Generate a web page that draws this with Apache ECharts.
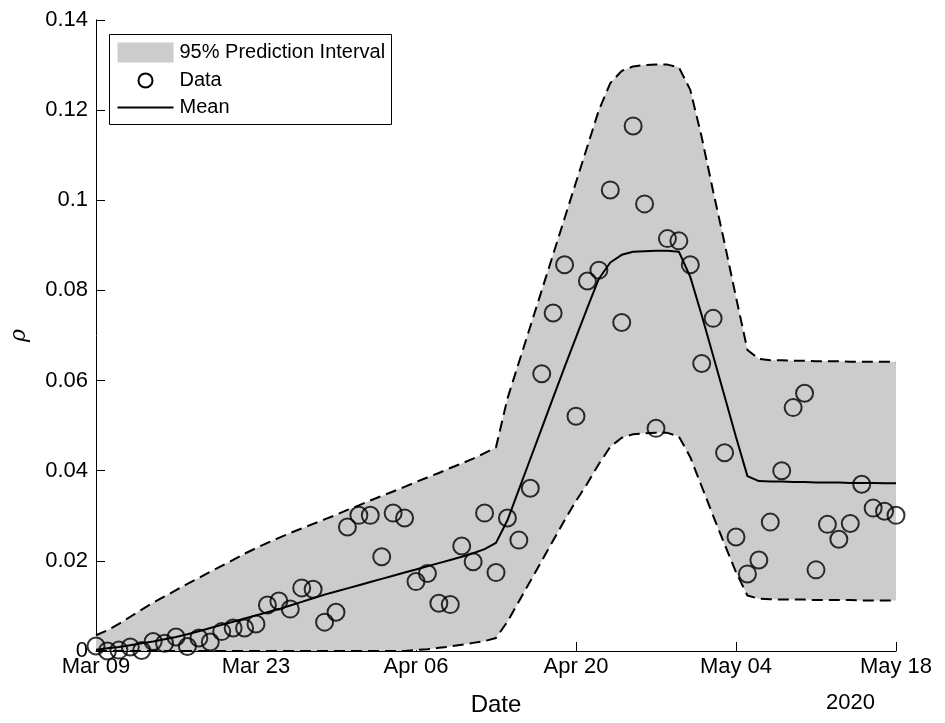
<!DOCTYPE html>
<html>
<head>
<meta charset="utf-8">
<script src="https://cdn.jsdelivr.net/npm/echarts@6/dist/echarts.min.js"></script>
<style>html,body{margin:0;padding:0;background:#fff;}#chart{width:945px;height:723px;}</style>
</head>
<body>
<div id="chart"></div>
<script>
// Daily categories, Mar 09 .. May 18, 2020
var dates = ['Mar 09','Mar 10','Mar 11','Mar 12','Mar 13','Mar 14','Mar 15','Mar 16','Mar 17','Mar 18','Mar 19','Mar 20','Mar 21','Mar 22','Mar 23','Mar 24','Mar 25','Mar 26','Mar 27','Mar 28','Mar 29','Mar 30','Mar 31',
 'Apr 01','Apr 02','Apr 03','Apr 04','Apr 05','Apr 06','Apr 07','Apr 08','Apr 09','Apr 10','Apr 11','Apr 12','Apr 13','Apr 14','Apr 15','Apr 16','Apr 17','Apr 18','Apr 19','Apr 20','Apr 21','Apr 22','Apr 23','Apr 24','Apr 25','Apr 26','Apr 27','Apr 28','Apr 29','Apr 30',
 'May 01','May 02','May 03','May 04','May 05','May 06','May 07','May 08','May 09','May 10','May 11','May 12','May 13','May 14','May 15','May 16','May 17','May 18'];

var yTickLabels = ['0','0.02','0.04','0.06','0.08','0.1','0.12','0.14'];

var rhoData = [0.0011,0.0000,0.0002,0.0009,0.0001,0.0021,0.0017,0.0031,0.0010,0.0029,
 0.0020,0.0043,0.0051,0.0051,0.0060,0.0102,0.0111,0.0093,0.0140,0.0137,
 0.0064,0.0086,0.0275,0.0301,0.0301,0.0209,0.0306,0.0295,0.0154,0.0172,
 0.0106,0.0103,0.0233,0.0198,0.0306,0.0174,0.0295,0.0246,0.0361,0.0615,
 0.0750,0.0857,0.0521,0.0821,0.0845,0.1023,0.0729,0.1165,0.0992,0.0494,
 0.0915,0.0910,0.0857,0.0638,0.0738,0.0440,0.0253,0.0171,0.0202,0.0286,
 0.0400,0.0540,0.0572,0.0180,0.0281,0.0248,0.0283,0.0370,0.0317,0.0310,0.0301];

var meanData = [0.0003,0.0006,0.0009,0.0013,0.0017,0.0021,0.0026,0.0031,0.0037,0.0044,
 0.0051,0.0058,0.0065,0.0072,0.0079,0.0086,0.0093,0.0101,0.0109,0.0117,
 0.0125,0.0132,0.0139,0.0146,0.0153,0.0160,0.0167,0.0174,0.0181,0.0188,
 0.0195,0.0202,0.0209,0.0217,0.0226,0.0240,0.0290,0.0358,0.0426,0.0494,
 0.0562,0.0630,0.0696,0.0762,0.0826,0.0862,0.0879,0.0886,0.0887,0.0888,
 0.0888,0.0886,0.0830,0.0745,0.0655,0.0565,0.0475,0.0388,0.0377,0.0376,
 0.0376,0.0375,0.0375,0.0374,0.0374,0.0374,0.0373,0.0373,0.0373,0.0372,0.0372];

var lowerData = [0,0,0,0,0,0,0,0,0,0,
 0,0,0,0,0,0,0,0,0,0,
 0,0,0,0,0,0,0,0,0.0002,0.0004,
 0.0007,0.0010,0.0014,0.0018,0.0022,0.0029,0.0065,0.0110,0.0155,0.0200,
 0.0245,0.0290,0.0333,0.0372,0.0415,0.0453,0.0473,0.0481,0.0483,0.0484,
 0.0484,0.0476,0.0430,0.0365,0.0300,0.0237,0.0175,0.0123,0.0116,0.0115,
 0.0114,0.0114,0.0114,0.0113,0.0113,0.0113,0.0113,0.0112,0.0112,0.0112,0.0112];

var upperData = [0.0035,0.0046,0.0060,0.0076,0.0092,0.0107,0.0121,0.0135,0.0149,0.0162,
 0.0176,0.0189,0.0202,0.0216,0.0228,0.0240,0.0251,0.0262,0.0272,0.0282,
 0.0292,0.0302,0.0313,0.0323,0.0334,0.0344,0.0354,0.0364,0.0375,0.0385,
 0.0395,0.0406,0.0416,0.0427,0.0439,0.0452,0.0560,0.0640,0.0720,0.0800,
 0.0880,0.0960,0.1040,0.1120,0.1200,0.1260,0.1287,0.1297,0.1300,0.1301,
 0.1301,0.1295,0.1245,0.1140,0.1020,0.0905,0.0785,0.0668,0.0648,0.0645,
 0.0645,0.0644,0.0644,0.0643,0.0643,0.0643,0.0642,0.0642,0.0642,0.0642,0.0641];

var bandWidth = upperData.map(function (u, i) { return +(u - lowerData[i]).toFixed(5); });

var FONT = 'Liberation Sans';
var chart = echarts.init(document.getElementById('chart'), null, {renderer: 'canvas'});

var legendX = 109, legendY = 34;
var option = {
  backgroundColor: '#ffffff',
  animation: false,
  grid: {left: 94, top: 20, width: 802, height: 631, containLabel: false},
  xAxis: {
    type: 'category',
    data: dates,
    boundaryGap: false,
    name: 'Date',
    nameLocation: 'middle',
    nameGap: 42,
    nameTextStyle: {fontFamily: FONT, fontSize: 24, color: '#000'},
    axisLine: {show: true, lineStyle: {color: '#000', width: 1}},
    axisTick: {show: true, inside: true, length: 9, interval: 13, lineStyle: {color: '#000'}},
    axisLabel: {show: true, interval: 13, margin: 5, fontFamily: FONT, fontSize: 22, color: '#000'},
    splitLine: {show: false}
  },
  yAxis: {
    type: 'value',
    min: 0, max: 0.14, interval: 0.02,
    name: 'ρ',
    nameLocation: 'middle',
    nameGap: 66,
    nameRotate: 90,
    nameTextStyle: {fontFamily: 'DejaVu Serif', fontStyle: 'italic', fontSize: 22, color: '#000'},
    axisLine: {show: true, lineStyle: {color: '#000', width: 1}},
    axisTick: {show: true, inside: true, length: 9, lineStyle: {color: '#000'}},
    axisLabel: {margin: 8, fontFamily: FONT, fontSize: 22, color: '#000',
      formatter: function (v) { return yTickLabels[Math.round(v / 0.02)]; }},
    splitLine: {show: false}
  },
  series: [
    {name: 'lowerBase', type: 'line', data: lowerData, stack: 'band', symbol: 'none',
      lineStyle: {opacity: 0}, silent: true, z: 1},
    {name: '95% Prediction Interval', type: 'line', data: bandWidth, stack: 'band', symbol: 'none',
      lineStyle: {opacity: 0}, areaStyle: {color: '#cccccc', opacity: 1}, silent: true, z: 1},
    {name: 'upper', type: 'line', data: upperData, symbol: 'none',
      lineStyle: {color: '#000', width: 2, type: [11, 6]}, z: 3},
    {name: 'lower', type: 'line', data: lowerData, symbol: 'none',
      lineStyle: {color: '#000', width: 2, type: [11, 6]}, z: 3},
    {name: 'Mean', type: 'line', data: meanData, symbol: 'none',
      lineStyle: {color: '#000', width: 2}, z: 4},
    {name: 'Data', type: 'scatter', data: rhoData, symbol: 'circle', symbolSize: 17, clip: false,
      itemStyle: {color: 'rgba(0,0,0,0)', borderColor: '#000', borderWidth: 2}, z: 5}
  ],
  graphic: [
    {type: 'group', left: legendX, top: legendY, z: 100, children: [
      {type: 'rect', shape: {x: 0, y: 0, width: 282, height: 90},
        style: {fill: '#fff', stroke: '#000', lineWidth: 1}},
      {type: 'rect', shape: {x: 8, y: 8, width: 56, height: 20}, style: {fill: '#cccccc'}},
      {type: 'text', x: 70, y: 18, style: {text: '95% Prediction Interval', fontFamily: FONT, fontSize: 20, fill: '#000', verticalAlign: 'middle'}},
      {type: 'circle', shape: {cx: 36, cy: 46, r: 7}, style: {fill: 'none', stroke: '#000', lineWidth: 2}},
      {type: 'text', x: 70, y: 46, style: {text: 'Data', fontFamily: FONT, fontSize: 20, fill: '#000', verticalAlign: 'middle'}},
      {type: 'line', shape: {x1: 8, y1: 73, x2: 64, y2: 73}, style: {stroke: '#000', lineWidth: 2}},
      {type: 'text', x: 70, y: 73, style: {text: 'Mean', fontFamily: FONT, fontSize: 20, fill: '#000', verticalAlign: 'middle'}}
    ]},
    {type: 'text', left: 826, top: 692, z: 100,
      style: {text: '2020', fontFamily: FONT, fontSize: 22, fill: '#000'}}
  ]
};
chart.setOption(option);
</script>
</body>
</html>
